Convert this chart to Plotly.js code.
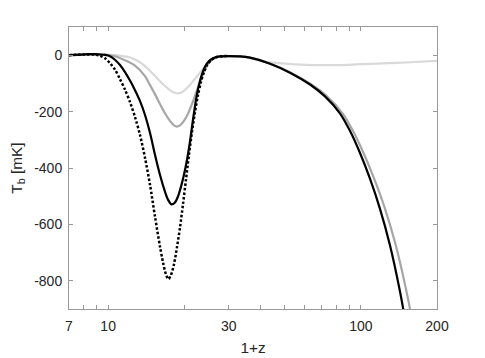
<!DOCTYPE html>
<html>
<head>
<meta charset="utf-8">
<script src="https://cdn.plot.ly/plotly-3.0.1.min.js"></script>
<style>html,body{margin:0;padding:0;background:#fff;}#chart{width:485px;height:358px;}</style>
</head>
<body>
<div id="chart"></div>
<script>
// Light gray curve
var lightX = [7, 8.87, 10.17, 11.14, 12.20, 13.36, 14.64, 15.74, 16.78, 17.72, 18.67, 19.59, 20.69, 21.86, 23.08, 24.16, 25.29, 26.46, 28.21, 30.07, 33.2, 36.4, 41.7, 50.1, 60.1, 72.1, 82.6, 99.1, 122.2, 156.3, 200];
var lightY = [0, 2, 1.4, -1.8, -8, -25, -55, -85, -109, -127, -135, -131, -113, -88, -62, -39, -21, -11, -4.6, -3, -5, -11, -23, -30, -34, -35, -35, -32, -29, -25, -20];
// Mid gray curve
var midX = [7, 8.48, 9.72, 10.64, 11.66, 12.77, 13.99, 14.64, 15.32, 16.03, 16.78, 17.56, 18.22, 18.72, 19.24, 19.95, 20.69, 21.46, 22.26, 23.08, 23.94, 24.83, 25.75, 27.20, 30.07, 33.2, 36.4, 43.9, 52.9, 63.7, 73.4, 84.6, 93.0, 102.3, 112.8, 124.5, 137.4, 151.4, 159.2];
var midY = [0, 2.8, 1.8, -3.5, -18, -37, -74, -106, -138, -173, -206, -233, -249, -253, -249, -233, -208, -173, -134, -95, -60, -32, -16, -5, -3, -4.2, -8.8, -30, -62, -104, -146, -206, -268, -346, -438, -544, -674, -837, -935];
// Black solid curve
var blackX = [7, 7.74, 8.32, 8.87, 9.37, 9.72, 10.17, 10.64, 11.14, 11.66, 12.20, 12.77, 13.36, 13.99, 14.64, 15.32, 16.03, 16.78, 17.24, 17.80, 18.38, 18.89, 19.42, 19.95, 20.51, 21.07, 21.66, 22.26, 22.87, 23.51, 24.16, 25.06, 25.99, 27.70, 30.07, 33.2, 36.4, 43.7, 52.4, 62.9, 72.1, 82.6, 90.5, 99.1, 108.6, 118.9, 130.3, 142.7, 149.4];
var blackY = [0, 1.8, 3.5, 3.5, 2.5, 1, -3.5, -16, -35, -60, -90, -124, -162, -212, -275, -353, -424, -484, -512, -529, -522, -501, -466, -424, -371, -307, -229, -159, -106, -67, -41, -21, -11, -4, -3, -4.2, -8.8, -30, -62, -104, -146, -206, -268, -346, -438, -544, -674, -837, -935];
// Black dotted curve
var dotX = [7, 8.10, 8.87, 9.28, 9.72, 10.17, 10.64, 11.14, 11.66, 12.20, 12.77, 13.36, 13.99, 14.64, 15.32, 16.03, 16.48, 16.93, 17.32, 17.72, 18.22, 18.72, 19.24, 19.77, 20.32, 20.88, 21.46, 22.06, 22.67, 23.29, 23.94, 24.60, 25.52, 26.71, 28.21, 30.07];
var dotY = [0, 2.5, 1.8, -1.8, -10.6, -28, -51, -85, -122, -166, -219, -282, -364, -459, -572, -678, -734, -777, -794, -780, -741, -681, -611, -529, -441, -353, -272, -201, -141, -95, -60, -35, -18, -7, -3.5, -3];

var xTickVals = [7, 8, 9, 10, 20, 30, 40, 50, 60, 70, 80, 90, 100, 200];
var xTickText = ['7', '', '', '10', '', '30', '', '', '', '', '', '', '100', '200'];
var yTickVals = [0, -200, -400, -600, -800];
var yTickText = ['0', '-200', '-400', '-600', '-800'];

var FONT = 'Liberation Sans, Arial, Helvetica, sans-serif';

var traces = [
  {x: lightX, y: lightY, mode: 'lines', line: {color: '#d9d9d9', width: 2.2, shape: 'spline', smoothing: 0.8}},
  {x: midX, y: midY, mode: 'lines', line: {color: '#a6a6a6', width: 2.2, shape: 'spline', smoothing: 0.8}},
  {x: dotX, y: dotY, mode: 'lines', line: {color: '#000000', width: 2.5, dash: '2.5px,2px', shape: 'spline', smoothing: 0.8}},
  {x: blackX, y: blackY, mode: 'lines', line: {color: '#000000', width: 2.2, shape: 'spline', smoothing: 0.8}}
];

var axisCommon = {
  showgrid: false, zeroline: false, showline: true, linecolor: '#999999', linewidth: 1,
  mirror: 'ticks', ticks: 'inside', ticklen: 4, tickwidth: 1, tickcolor: '#999999',
  tickfont: {family: FONT, size: 14, color: '#262626'}
};

var layout = {
  width: 485, height: 358,
  margin: {l: 69, r: 48, t: 27, b: 49},
  paper_bgcolor: '#ffffff', plot_bgcolor: '#ffffff',
  showlegend: false,
  xaxis: Object.assign({}, axisCommon, {
    type: 'log', range: [Math.log10(7), Math.log10(200)],
    tickmode: 'array', tickvals: xTickVals, ticktext: xTickText,
    ticklabelstandoff: 4,
    title: {text: '1+z', font: {family: FONT, size: 15.4, color: '#262626'}, standoff: 9}
  }),
  yaxis: Object.assign({}, axisCommon, {
    range: [-900, 100],
    tickmode: 'array', tickvals: yTickVals, ticktext: yTickText,
    ticklabelstandoff: 3,
    title: {text: 'T<sub>b</sub> [mK]', font: {family: FONT, size: 15.4, color: '#262626'}, standoff: 7}
  })
};

Plotly.newPlot('chart', traces, layout, {staticPlot: true, displayModeBar: false});
</script>
</body>
</html>
